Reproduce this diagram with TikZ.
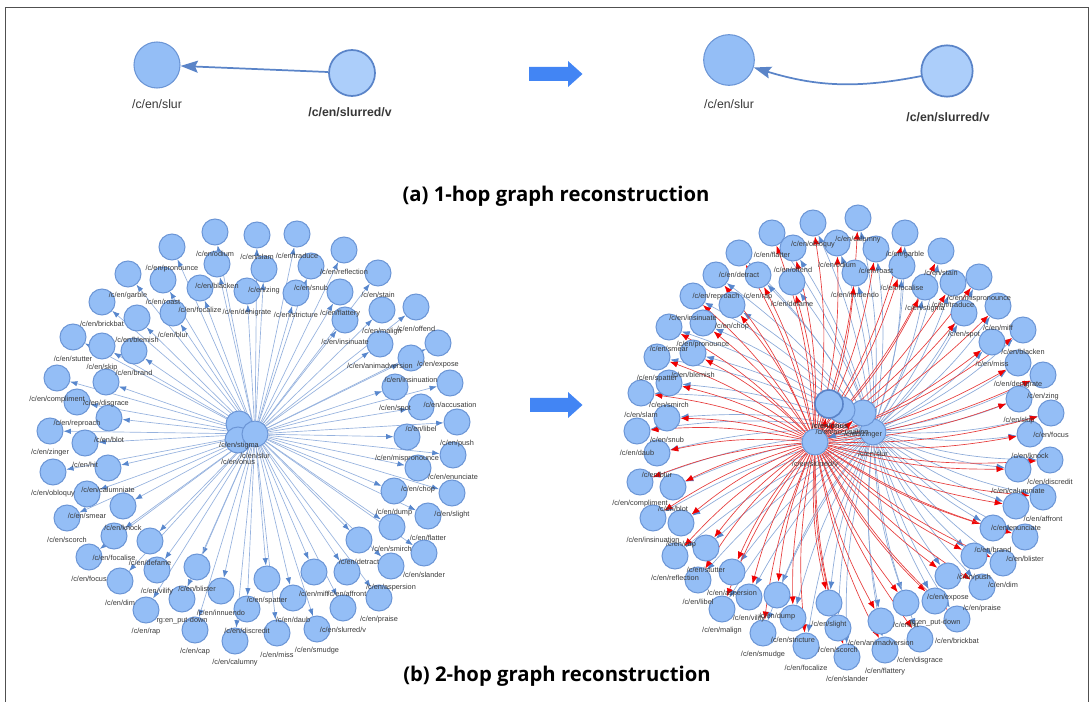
\documentclass[tikz,border=0pt]{standalone}
\usepackage{fontspec}
\setmainfont{Liberation Sans}
\newfontfamily\capfont{Open Sans}
\usetikzlibrary{arrows.meta}
\pgfdeclarelayer{bg}\pgfdeclarelayer{fg}
\pgfsetlayers{bg,main,fg}
\definecolor{nfill}{RGB}{148,190,246}
\definecolor{nline}{RGB}{108,150,214}
\definecolor{eline}{RGB}{150,178,222}
\definecolor{etip}{RGB}{88,135,205}
\definecolor{rline}{RGB}{230,60,60}
\definecolor{rtip}{RGB}{240,0,0}
\definecolor{bline}{RGB}{140,170,216}
\definecolor{lbltext}{RGB}{55,55,55}
\definecolor{bigarrow}{RGB}{66,133,244}
\definecolor{lightfill}{RGB}{172,206,250}
\definecolor{darkline}{RGB}{90,132,200}
\definecolor{framec}{RGB}{80,80,80}
\tikzset{
 gnode/.style={circle,fill=nfill,draw=nline,line width=0.75pt,minimum size=19.5pt,inner sep=0pt},
 lbl/.style={font=\fontsize{5.5pt}{6pt}\selectfont,text=lbltext,inner sep=0pt},
 toplbl/.style={font=\fontsize{9.2pt}{11pt}\selectfont,text=lbltext,inner sep=0pt},
 ledge/.style={draw=eline,line width=0.5pt,-{Latex[length=5.5pt,width=4pt,color=etip]}},
 redge/.style={draw=rline,line width=0.5pt,-{Latex[length=6pt,width=4.6pt,color=rtip]},bend right=8},
 bedge/.style={draw=bline,line width=0.5pt,-{Latex[length=6pt,width=4.6pt,color=etip]},bend right=8},
 topedge/.style={draw=darkline,line width=1.3pt,-{Stealth[length=13pt,width=9pt,inset=2pt]}},
 caption/.style={font=\capfont\bfseries\fontsize{15.2pt}{18pt}\selectfont,inner sep=0pt},
 bigarr/.style={fill=bigarrow,draw=none}
}
\newcommand\cen{/c/en/}
\newcommand\gn[4]{\node[gnode] (#1) at (#2,#3) {};
  \begin{pgfonlayer}{fg}\node[lbl] (#1t) at (#2,#3+22) {#4};\end{pgfonlayer}}
\begin{document}
\begin{tikzpicture}[x=0.75pt,y=-0.75pt]
\useasboundingbox (0,0) rectangle (1090,702);
\draw[framec,line width=0.75pt] (5,702) -- (5,8) -- (1088,8) -- (1088,702);

% ---------- (a) 1-hop ----------
\node[circle,fill=nfill,draw=nline,line width=0.8pt,minimum size=34.5pt,inner sep=0pt] (TLslur) at (157,65) {};
\node[toplbl] (TLslurt) at (157,104) {/c/en/slur};
\node[circle,fill=lightfill,draw=darkline,line width=1.3pt,minimum size=34.5pt,inner sep=0pt] (TLsv) at (352,73) {};
\node[toplbl,font=\bfseries\fontsize{9.2pt}{11pt}\selectfont] (TLsvt) at (350,112) {/c/en/slurred/v};
\draw[topedge] (TLsv) -- (TLslur);

\fill[bigarr] (529,67) -- (568,67) -- (568,61) -- (582.5,74) -- (568,87) -- (568,81) -- (529,81) -- cycle;

\node[circle,fill=nfill,draw=nline,line width=0.8pt,minimum size=38pt,inner sep=0pt] (TRslur) at (729,60) {};
\node[toplbl] (TRslurt) at (729,104) {/c/en/slur};
\node[circle,fill=lightfill,draw=darkline,line width=1.3pt,minimum size=38.5pt,inner sep=0pt] (TRsv) at (947,71) {};
\node[toplbl,font=\bfseries\fontsize{9.2pt}{11pt}\selectfont] (TRsvt) at (948,117) {/c/en/slurred/v};
\draw[topedge] (TRsv) to[bend left=14] (TRslur);

\node[caption] (capa) at (556,196) {(a) 1-hop graph reconstruction};

% ---------- (b) left ----------
\gn{Lstigma}{239}{424}{\cen stigma}
\gn{Lonus}{238}{440}{\cen onus}
\gn{Lslur}{255}{434}{\cen slur}
\gn{A1}{215}{232}{\cen odium}
\gn{A2}{257}{235}{\cen slam}
\gn{A3}{172}{247}{\cen pronounce}
\gn{A4}{217}{264}{\cen blacken}
\gn{A5}{264}{269}{\cen zing}
\gn{A6}{128}{274}{\cen garble}
\gn{A7}{163}{280}{\cen roast}
\gn{A8}{200}{288}{\cen focalize}
\gn{A9}{247}{291}{\cen denigrate}
\gn{A10}{102}{302}{\cen brickbat}
\gn{A11}{173}{313}{\cen blur}
\gn{A12}{137}{318}{\cen blemish}
\gn{A13}{73}{337}{\cen stutter}
\gn{A14}{102}{346}{\cen skip}
\gn{A15}{134}{351}{\cen brand}
\gn{A16}{57}{378}{\cen compliment}
\gn{A17}{106}{382}{\cen disgrace}
\gn{A18}{77}{402}{\cen reproach}
\gn{A19}{109}{418}{\cen blot}
\gn{A20}{50}{431}{\cen zinger}
\gn{A21}{85}{443}{\cen hit}
\gn{A22}{297}{234}{\cen traduce}
\gn{A23}{344}{250}{\cen reflection}
\gn{A24}{311}{266}{\cen snub}
\gn{A25}{378}{273}{\cen stain}
\gn{A26}{296}{293}{\cen stricture}
\gn{A27}{340}{292}{\cen flattery}
\gn{A28}{382}{310}{\cen malign}
\gn{A29}{416}{307}{\cen offend}
\gn{A30}{345}{320}{\cen insinuate}
\gn{A31}{380}{344}{\cen animadversion}
\gn{A32}{438}{343}{\cen expose}
\gn{A33}{411}{358}{\cen insinuation}
\gn{A34}{450}{383}{\cen accusation}
\gn{A35}{395}{387}{\cen spot}
\gn{A36}{421}{407}{\cen libel}
\gn{A37}{457}{422}{\cen push}
\gn{A38}{407}{437}{\cen mispronounce}
\gn{A39}{453}{455}{\cen enunciate}
\gn{A40}{418}{468}{\cen chop}
\gn{A41}{452}{493}{\cen slight}
\gn{A42}{394}{491}{\cen dump}
\gn{A43}{428}{516}{\cen flatter}
\gn{A44}{392}{527}{\cen smirch}
\gn{A45}{424}{553}{\cen slander}
\gn{A46}{359}{540}{\cen detract}
\gn{A47}{391}{566}{\cen aspersion}
\gn{A48}{314}{572}{\cen miff}
\gn{A49}{347}{572}{\cen affront}
\gn{A50}{267}{579}{\cen spatter}
\gn{A51}{293}{598}{\cen daub}
\gn{A52}{379}{598}{\cen praise}
\gn{A53}{343}{608}{\cen slurred/v}
\gn{A54}{277}{633}{\cen miss}
\gn{A55}{317}{629}{\cen smudge}
\gn{A56}{53}{472}{\cen obloquy}
\gn{A57}{108}{468}{\cen calumniate}
\gn{A58}{87}{494}{\cen smear}
\gn{A59}{123}{506}{\cen knock}
\gn{A60}{67}{518}{\cen scorch}
\gn{A61}{114}{536}{\cen focalise}
\gn{A62}{150}{541}{\cen defame}
\gn{A63}{89}{557}{\cen focus}
\gn{A64}{157}{570}{\cen vilify}
\gn{A65}{197}{567}{\cen blister}
\gn{A66}{120}{581}{\cen dim}
\gn{A67}{221}{591}{\cen innuendo}
\gn{A68}{182}{599}{rg:en\_put-down}
\gn{A69}{247}{609}{\cen discredit}
\gn{A70}{146}{610}{\cen rap}
\gn{A71}{195}{630}{\cen cap}
\gn{A72}{235}{641}{\cen calumny}
\begin{pgfonlayer}{bg}
\foreach \i in {1,...,72} \draw[ledge] (Lslur) -- (A\i);
\draw[ledge] (Lslur) -- (Lstigma);
\draw[ledge] (Lslur) -- (Lonus);
\end{pgfonlayer}

\fill[bigarr] (530,398) -- (568,398) -- (568,392) -- (582.5,405) -- (568,418) -- (568,412) -- (530,412) -- cycle;

% ---------- (b) right ----------
\gn{Rsv}{815}{442}{\cen slurred/v}
\gn{Rslur}{873}{432}{\cen slur}
\gn{Rzinger}{863}{413}{\cen zinger}
\gn{Racc}{842}{410}{\cen accusation}
\node[gnode,draw=darkline,line width=1.2pt,minimum size=21pt] (Ronus) at (829,404) {};
\begin{pgfonlayer}{fg}\node[lbl,font=\bfseries\fontsize{5.5pt}{6pt}\selectfont] (Ronust) at (830,426) {\cen onus};\end{pgfonlayer}
\gn{B1}{772}{233}{\cen flatter}
\gn{B2}{813}{223}{\cen obloquy}
\gn{B3}{739}{253}{\cen detract}
\gn{B4}{793}{248}{\cen offend}
\gn{B5}{758}{275}{\cen rap}
\gn{B6}{792}{282}{\cen defame}
\gn{B7}{716}{275}{\cen reproach}
\gn{B8}{693}{296}{\cen insinuate}
\gn{B9}{732}{305}{\cen chop}
\gn{B10}{669}{327}{\cen smear}
\gn{B11}{703}{323}{\cen pronounce}
\gn{B12}{657}{357}{\cen spatter}
\gn{B13}{693}{353}{\cen blemish}
\gn{B14}{669}{383}{\cen smirch}
\gn{B15}{641}{393}{\cen slam}
\gn{B16}{667}{418}{\cen snub}
\gn{B17}{637}{431}{\cen daub}
\gn{B18}{858}{218}{\cen calumny}
\gn{B19}{905}{233}{\cen garble}
\gn{B20}{837}{243}{\cen odium}
\gn{B21}{876}{249}{\cen roast}
\gn{B22}{941}{251}{\cen stain}
\gn{B23}{902}{266}{\cen focalise}
\gn{B24}{855}{273}{\cen innuendo}
\gn{B25}{979}{277}{\cen mispronounce}
\gn{B26}{953}{283}{\cen traduce}
\gn{B27}{925}{287}{\cen stigma}
\gn{B28}{964}{313}{\cen spot}
\gn{B29}{998}{306}{\cen miff}
\gn{B30}{1023}{330}{\cen blacken}
\gn{B31}{992}{342}{\cen miss}
\gn{B32}{1018}{363}{\cen denigrate}
\gn{B33}{1043}{375}{\cen zing}
\gn{B34}{1019}{399}{\cen skip}
\gn{B35}{1051}{413}{\cen focus}
\gn{B36}{1030}{434}{\cen knock}
\gn{B37}{1050}{460}{\cen discredit}
\gn{B38}{1018}{469}{\cen calumniate}
\gn{B39}{1043}{497}{\cen affront}
\gn{B40}{1016}{506}{\cen enunciate}
\gn{B41}{993}{528}{\cen brand}
\gn{B42}{1025}{537}{\cen blister}
\gn{B43}{974}{556}{\cen push}
\gn{B44}{1003}{563}{\cen dim}
\gn{B45}{948}{576}{\cen expose}
\gn{B46}{982}{587}{\cen praise}
\gn{B47}{935}{601}{rg:en\_put-down}
\gn{B48}{957}{619}{\cen brickbat}
\gn{B49}{906}{603}{\cen hit}
\gn{B50}{881}{621}{\cen animadversion}
\gn{B51}{920}{639}{\cen disgrace}
\gn{B52}{885}{650}{\cen flattery}
\gn{B53}{847}{657}{\cen slander}
\gn{B54}{838}{628}{\cen scorch}
\gn{B55}{829}{603}{\cen slight}
\gn{B56}{657}{453}{\cen blur}
\gn{B57}{640}{482}{\cen compliment}
\gn{B58}{673}{487}{\cen blot}
\gn{B59}{653}{518}{\cen insinuation}
\gn{B60}{681}{523}{\cen cap}
\gn{B61}{706}{548}{\cen stutter}
\gn{B62}{675}{556}{\cen reflection}
\gn{B63}{732}{572}{\cen aspersion}
\gn{B64}{698}{580}{\cen libel}
\gn{B65}{749}{597}{\cen vilify}
\gn{B66}{777}{595}{\cen dump}
\gn{B67}{722}{609}{\cen malign}
\gn{B68}{763}{633}{\cen smudge}
\gn{B69}{793}{618}{\cen stricture}
\gn{B70}{806}{646}{\cen focalize}
\begin{pgfonlayer}{bg}
\foreach \i in {1,...,70} \draw[bedge] (Rslur) to (B\i);
\foreach \i in {1,...,70} \draw[redge] (Rsv) to (B\i);
\draw[redge] (Rsv) to (Ronus);
\draw[redge] (Rsv) to (Racc);
\draw[redge] (Rsv) to (Rzinger);
\draw[bedge] (Rslur) to (Rsv);
\end{pgfonlayer}

\node[caption] (capb) at (557,676) {(b) 2-hop graph reconstruction};
\end{tikzpicture}
\end{document}
